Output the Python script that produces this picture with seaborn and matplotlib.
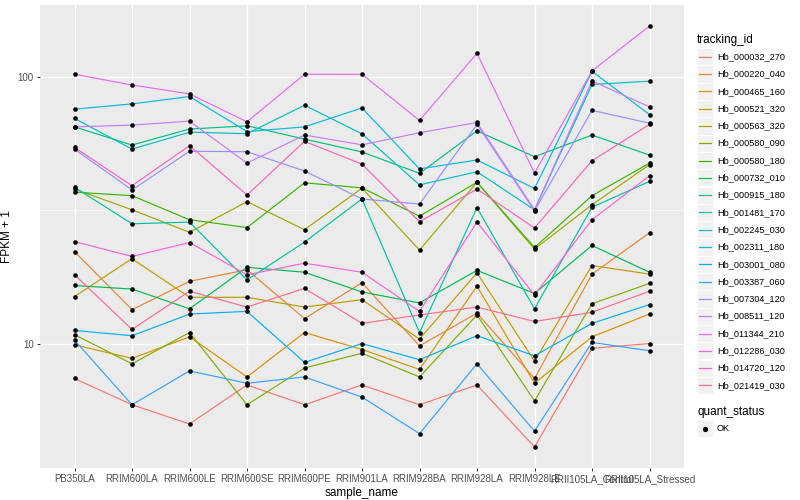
import numpy as np
import pandas as pd
import matplotlib
matplotlib.use("Agg")
import matplotlib.pyplot as plt
import seaborn as sns
from matplotlib.patches import Rectangle
from matplotlib.lines import Line2D
from matplotlib.ticker import FixedLocator, NullFormatter

# ---------------- data ----------------
samples = ["PB350LA", "RRIM600LA", "RRIM600LE", "RRIM600SE", "RRIM600PE", "RRIM901LA",
           "RRIM928BA", "RRIM928LA", "RRIM928LE", "RRII105LA_Control", "RRII105LA_Stressed"]

tracking_ids = ["Hb_000032_270", "Hb_000220_040", "Hb_000465_160", "Hb_000521_320",
                "Hb_000563_320", "Hb_000580_090", "Hb_000580_180", "Hb_000732_010",
                "Hb_000915_180", "Hb_001481_170", "Hb_002245_030", "Hb_002311_180",
                "Hb_003001_080", "Hb_003387_060", "Hb_007304_120", "Hb_008511_120",
                "Hb_011344_210", "Hb_012286_030", "Hb_014720_120", "Hb_021419_030"]

# FPKM + 1 per sample (same order as samples)
hb_000032_270 = [7.4, 5.9, 5.0, 7.0, 5.9, 7.0, 5.9, 7.0, 4.1, 9.6, 10.0]
hb_000220_040 = [22.1, 13.4, 17.1, 18.9, 12.4, 16.9, 9.8, 13.0, 7.4, 18.2, 26.0]
hb_000465_160 = [9.9, 8.8, 10.6, 7.5, 11.0, 9.5, 8.0, 16.4, 7.1, 10.6, 12.9]
hb_000521_320 = [15.0, 20.8, 14.9, 14.9, 13.7, 14.6, 10.4, 18.4, 8.6, 19.6, 18.2]
hb_000563_320 = [37.9, 31.7, 26.1, 34.0, 26.7, 38.2, 22.4, 40.2, 22.6, 33.1, 46.8]
hb_000580_090 = [10.8, 8.4, 11.0, 5.9, 8.1, 9.2, 7.5, 12.8, 6.1, 14.1, 16.8]
hb_000580_180 = [36.9, 35.8, 29.1, 27.2, 40.0, 38.3, 30.0, 40.2, 22.9, 35.8, 47.4]
hb_000732_010 = [16.5, 16.0, 13.5, 19.3, 18.5, 15.6, 14.2, 18.8, 15.4, 23.3, 18.5]
hb_000915_180 = [64.8, 55.4, 63.6, 65.4, 58.3, 52.2, 43.4, 62.6, 50.1, 60.4, 50.8]
hb_001481_170 = [38.5, 28.1, 28.5, 17.3, 24.0, 34.8, 11.0, 32.3, 13.5, 32.4, 40.5]
hb_002245_030 = [69.7, 53.5, 61.9, 61.1, 78.1, 61.0, 39.3, 44.0, 31.7, 93.4, 96.1]
hb_002311_180 = [75.5, 79.0, 84.2, 62.2, 64.8, 76.3, 45.1, 48.7, 38.1, 104.7, 72.0]
hb_003001_080 = [11.2, 10.7, 12.9, 13.2, 8.5, 10.0, 8.7, 10.7, 9.0, 11.9, 14.0]
hb_003387_060 = [10.3, 5.9, 7.9, 7.1, 7.5, 6.3, 4.6, 8.4, 4.7, 10.1, 9.4]
hb_007304_120 = [53.5, 37.6, 52.5, 52.3, 44.3, 34.8, 33.3, 66.2, 31.4, 74.7, 66.9]
hb_008511_120 = [64.8, 65.8, 68.1, 47.4, 60.4, 55.5, 61.6, 67.3, 31.7, 96.3, 77.0]
hb_011344_210 = [102.0, 93.0, 86.1, 67.7, 102.0, 102.0, 68.5, 122.2, 43.5, 105.0, 154.6]
hb_012286_030 = [24.1, 21.2, 23.9, 18.1, 20.0, 18.5, 13.2, 28.5, 15.2, 29.1, 42.5]
hb_014720_120 = [54.3, 39.0, 55.1, 36.0, 57.2, 47.0, 28.6, 37.9, 27.1, 48.4, 66.2]
hb_021419_030 = [18.1, 11.3, 15.7, 13.7, 16.1, 11.9, 12.8, 13.7, 12.1, 13.1, 15.7]

series = [hb_000032_270, hb_000220_040, hb_000465_160, hb_000521_320, hb_000563_320,
          hb_000580_090, hb_000580_180, hb_000732_010, hb_000915_180, hb_001481_170,
          hb_002245_030, hb_002311_180, hb_003001_080, hb_003387_060, hb_007304_120,
          hb_008511_120, hb_011344_210, hb_012286_030, hb_014720_120, hb_021419_030]

# ggplot2 default hue palette for 20 levels
palette = ["#F8766D", "#EA8331", "#D89000", "#C09B00", "#A3A500", "#7CAE00", "#39B600",
           "#00BB4E", "#00BF7D", "#00C1A3", "#00BFC4", "#00BAE0", "#00B0F6", "#35A2FF",
           "#9590FF", "#C77CFF", "#E76BF3", "#FA62DB", "#FF62BC", "#FF6C91"]

rows = []
for tid, vals in zip(tracking_ids, series):
    for s, v in zip(samples, vals):
        rows.append({"sample_name": s, "tracking_id": tid, "fpkm1": v, "quant_status": "OK"})
df = pd.DataFrame(rows)

# ---------------- figure ----------------
plt.rcParams["font.family"] = ["Liberation Sans", "DejaVu Sans"]
W, H = 800, 500
fig = plt.figure(figsize=(8, 5), dpi=100)
fig.patch.set_facecolor("white")
ax = fig.add_axes([40 / W, 1 - 468 / H, (684 - 40) / W, (468 - 5) / H])
ax.set_facecolor("#EBEBEB")
ax.set_yscale("log")

sns.lineplot(data=df, x="sample_name", y="fpkm1", hue="tracking_id", hue_order=tracking_ids,
             palette=palette, sort=False, estimator=None, legend=False, linewidth=0.85, ax=ax)
sns.scatterplot(data=df, x="sample_name", y="fpkm1", color="black", s=11, marker="o",
                linewidth=0, legend=False, ax=ax, zorder=5)

# log scale limits with ggplot-like 5% expansion
lo, hi = np.log10(df["fpkm1"].min()), np.log10(df["fpkm1"].max())
pad = (hi - lo) * 0.05
ax.set_ylim(10 ** (lo - pad), 10 ** (hi + pad))
ax.set_xlim(-0.6, len(samples) - 0.4)

ax.yaxis.set_major_locator(FixedLocator([10, 100]))
ax.yaxis.set_minor_locator(FixedLocator([10 ** 1.5]))
ax.yaxis.set_minor_formatter(NullFormatter())
ax.set_yticklabels(["10", "100"])
ax.set_xticks(range(len(samples)))
ax.set_xticklabels(samples)

ax.grid(which="major", color="white", linewidth=1.0)
ax.grid(which="minor", axis="y", color="white", linewidth=0.5)
ax.set_axisbelow(True)
for sp in ax.spines.values():
    sp.set_visible(False)
ax.tick_params(which="major", length=2.5, width=0.7, color="#333333", labelcolor="#4D4D4D",
               labelsize=7, pad=2)
ax.tick_params(which="minor", length=0)

ax.set_xlabel("sample_name", fontsize=8.5, color="black", labelpad=2)
ax.set_ylabel("FPKM + 1", fontsize=8.5, color="black", labelpad=3)

# ---------------- legend (drawn manually, ggplot style) ----------------
def fy(py):
    return 1 - py / H

def fx(px):
    return px / W

fig.text(fx(697), fy(40.5), "tracking_id", fontsize=8.5, va="center", ha="left")
step = 17.3
for i, (tid, col) in enumerate(zip(tracking_ids, palette)):
    cy = 56.7 + i * step
    fig.add_artist(Rectangle((fx(696.5), fy(cy + 8.6)), 16.5 / W, 17.2 / H,
                             transform=fig.transFigure, facecolor="#F2F2F2",
                             edgecolor="white", linewidth=0.6, zorder=1))
    fig.add_artist(Line2D([fx(698.5), fx(711)], [fy(cy), fy(cy)], transform=fig.transFigure,
                          color=col, linewidth=0.9, zorder=3))
    fig.text(fx(717), fy(cy), tid, fontsize=6.6, va="center", ha="left")

fig.text(fx(697), fy(412.5), "quant_status", fontsize=8.5, va="center", ha="left")
cy = 428.5
fig.add_artist(Rectangle((fx(696.5), fy(cy + 8.6)), 16.5 / W, 17.2 / H,
                         transform=fig.transFigure, facecolor="#F2F2F2",
                         edgecolor="white", linewidth=0.6, zorder=1))
fig.add_artist(Line2D([fx(704.7)], [fy(cy)], transform=fig.transFigure, color="black",
                      marker="o", markersize=2.8, linestyle="none", zorder=3))
fig.text(fx(717), fy(cy), "OK", fontsize=6.6, va="center", ha="left")

fig.savefig("out.png", dpi=100)
